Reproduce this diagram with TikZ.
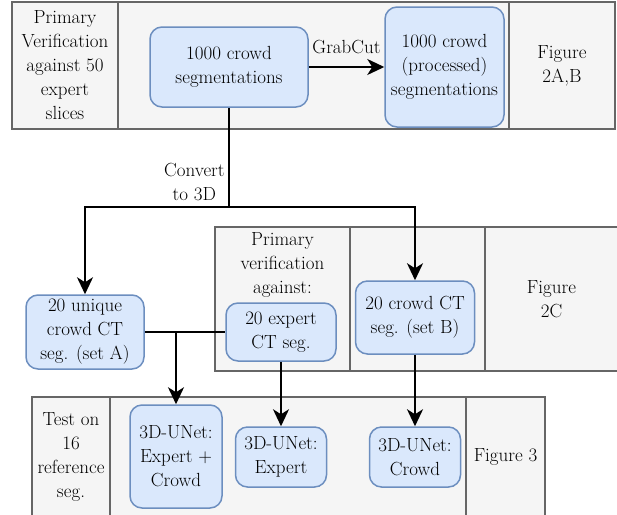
\documentclass[tikz,border=0pt]{standalone}
\usetikzlibrary{arrows.meta}
\definecolor{lanefill}{HTML}{F5F5F5}
\definecolor{laneline}{HTML}{666666}
\definecolor{boxfill}{HTML}{DAE8FC}
\definecolor{boxline}{HTML}{6C8EBF}
\begin{document}
\begin{tikzpicture}[x=1pt, y=-1pt,
	font=\fontsize{19}{24}\selectfont,
	lane/.style={draw=laneline, fill=lanefill, line width=1.5pt, rectangle, align=center, inner sep=1pt},
	stage/.style={draw=boxline, fill=boxfill, line width=1.5pt, rectangle, rounded corners=12pt, align=center, inner sep=1pt},
	flow/.style={line width=2pt, -{Stealth[length=17pt, width=16pt, inset=5pt]}},
	link/.style={line width=2pt}]
				\clip (0,0) rectangle (617,514);

				% Top lane
				\node[lane, minimum width=106pt, minimum height=127pt] (verify50) at (65,65.5) {Primary\\Verification\\against 50\\expert\\slices};
				\node[lane, minimum width=391pt, minimum height=127pt] (toplane) at (313.5,65.5) {};
				\node[lane, minimum width=106pt, minimum height=127pt] (fig2ab) at (562,65.5) {Figure\\2A,B};

				% Middle lane
				\node[lane, minimum width=135pt, minimum height=144pt] (verifylane) at (282.5,299) {};
				\node[align=center] (verifytext) at (282.5,265) {Primary\\verification\\against:};
				\node[lane, minimum width=135pt, minimum height=144pt] (setblane) at (417.5,299) {};
				\node[lane, minimum width=133pt, minimum height=144pt] (fig2c) at (551.5,299) {Figure\\2C};

				% Bottom lane
				\node[lane, minimum width=78pt, minimum height=119pt] (testref) at (71,456.5) {Test on\\16\\reference\\seg.};
				\node[lane, minimum width=356pt, minimum height=119pt] (unetlane) at (288,456.5) {};
				\node[lane, minimum width=79pt, minimum height=119pt] (fig3) at (505.5,456.5) {Figure 3};

				% Segmentations
				\node[stage, minimum width=158pt, minimum height=80pt] (seg1000) at (229,67) {1000 crowd\\segmentations};
				\node[stage, minimum width=119pt, minimum height=120pt] (segproc) at (444.5,67) {1000 crowd\\(processed)\\segmentations};
				\draw[flow] (seg1000) -- node[above=9pt] (grabcut) {GrabCut} (segproc);

				% 3D sets
				\node[stage, minimum width=118pt, minimum height=74pt] (setA) at (85,332) {20 unique\\crowd CT\\seg. (set A)};
				\node[stage, minimum width=110pt, minimum height=58pt] (expct) at (281,332) {20 expert\\CT seg.};
				\node[stage, minimum width=119pt, minimum height=73pt] (setB) at (415,317.5) {20 crowd CT\\seg. (set B)};
				\coordinate (split) at (229,207);
				\draw[link] (seg1000) -- node[pos=0.75, left, align=center] (convert) {Convert\\to 3D} (split);
				\draw[flow] (split) -| (setA);
				\draw[flow] (split) -| (setB);

				% 3D-UNet models
				\node[stage, minimum width=92pt, minimum height=103pt] (unetboth) at (176,456.5) {3D-UNet:\\Expert +\\Crowd};
				\node[stage, minimum width=91pt, minimum height=60pt] (unetexp) at (281,457) {3D-UNet:\\Expert};
				\node[stage, minimum width=91pt, minimum height=60pt] (unetcrowd) at (415,457) {3D-UNet:\\Crowd};
				\coordinate (join) at (unetboth.north |- setA.east);
				\draw[link] (setA) -- (expct);
				\draw[flow] (join) -- (unetboth);
				\draw[flow] (expct) -- (unetexp);
				\draw[flow] (setB) -- (unetcrowd);
			\end{tikzpicture}
\end{document}
